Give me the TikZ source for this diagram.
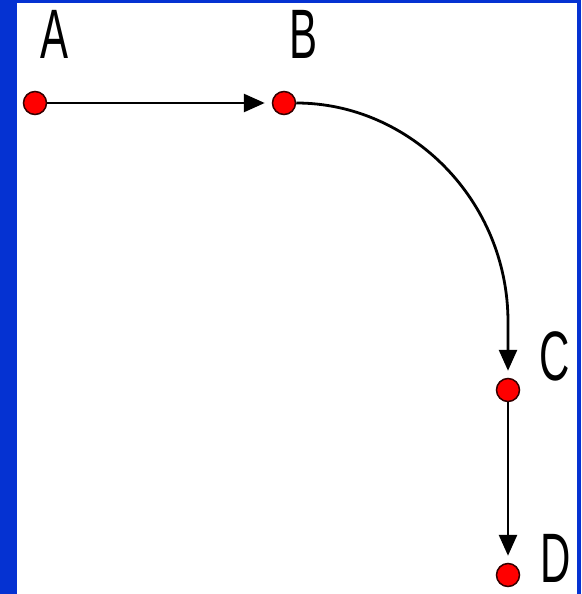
\documentclass[tikz,border=0pt]{standalone}
\usepackage{fontspec}
\setmainfont{Liberation Sans}
\usetikzlibrary{arrows.meta}
\definecolor{frameblue}{RGB}{5,50,210}
\definecolor{dotred}{RGB}{255,0,0}
\tikzset{
  pt/.style={circle,fill=dotred,draw=black!80!red,line width=1.5pt,minimum size=23pt,inner sep=0pt},
  lbl/.style={font=\fontsize{70}{70}\selectfont,inner sep=0pt,xscale=0.6},
  conn/.style={line width=2.8pt,-{Triangle[length=21pt,width=18pt]},shorten >=7pt}
}
\begin{document}
\begin{tikzpicture}[x=1pt,y=-1pt]
\useasboundingbox (0,0) rectangle (581,594);
\fill[white] (0,0) rectangle (581,594);
\fill[frameblue] (0,0) rectangle (17,594);
\fill[frameblue] (0,0) rectangle (581,3);
\fill[frameblue] (577,0) rectangle (581,594);
\node[pt] (A) at (35,103) {};
\node[pt] (B) at (284,103) {};
\node[pt] (C) at (508,390) {};
\node[pt] (D) at (508,575) {};
\node[lbl] (lA) at (55,34) {A};
\node[lbl] (lB) at (304,34) {B};
\node[lbl] (lC) at (555,356) {C};
\node[lbl] (lD) at (556,558) {D};
\coordinate (bend) at (508,322);
\draw[conn] (A) -- (B);
\draw[conn] (B.east) .. controls (410,103) and (508,200) .. (bend) -- (C);
\draw[conn] (C) -- (D);
\end{tikzpicture}
\end{document}
